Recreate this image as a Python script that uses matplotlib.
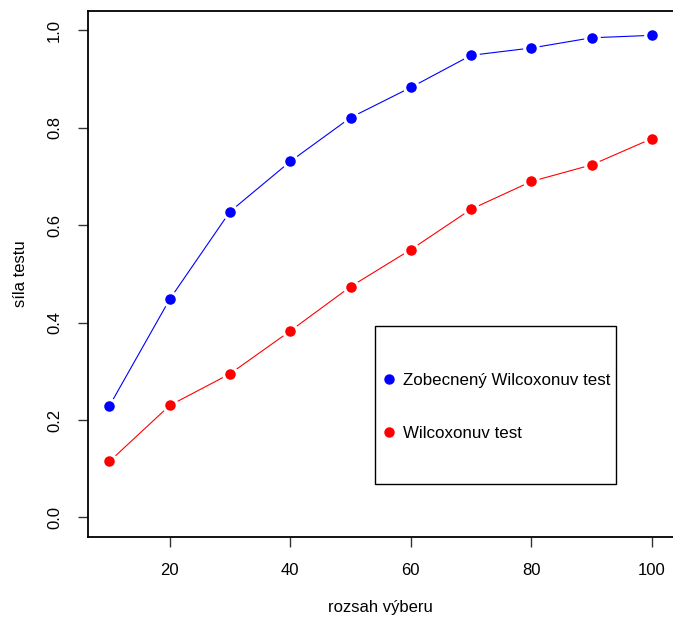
import matplotlib
matplotlib.use("Agg")
import matplotlib.pyplot as plt
from matplotlib.lines import Line2D
from matplotlib.patches import Rectangle

plt.rcParams['font.family'] = ['Liberation Sans', 'DejaVu Sans']

# rozsah vyberu
n = [10, 20, 30, 40, 50, 60, 70, 80, 90, 100]
# sila testu
zobecneny = [0.229, 0.448, 0.628, 0.731, 0.821, 0.883, 0.949, 0.964, 0.985, 0.990]
wilcoxon = [0.115, 0.230, 0.295, 0.383, 0.474, 0.550, 0.633, 0.690, 0.724, 0.778]
labels = ['Zobecnený Wilcoxonuv test', 'Wilcoxonuv test']
colors = ['#0000ff', '#ff0000']

fig = plt.figure(figsize=(6.73, 6.17), dpi=100)
ax = fig.add_axes([0.1303, 0.1297, 0.8707, 0.8525])

for ys, c in zip([zobecneny, wilcoxon], colors):
    ax.plot(n, ys, color=c, lw=0.8, marker='o', ms=9.8,
            mfc=c, mec='white', mew=2.2, zorder=3)

ax.set_xlim(6.4, 103.6)
ax.set_ylim(-0.04, 1.04)
ax.set_xticks([20, 40, 60, 80, 100])
ax.set_yticks([0.0, 0.2, 0.4, 0.6, 0.8, 1.0])
ax.set_yticklabels(['0.0', '0.2', '0.4', '0.6', '0.8', '1.0'], rotation=90, va='center')
ax.tick_params(axis='both', length=7.5, width=1.0, color='#333333', labelsize=12, pad=11)

for s in ax.spines.values():
    s.set_linewidth(1.3)
ax.spines['right'].set_visible(False)

ax.set_xlabel('rozsah výberu', fontsize=12, labelpad=16)
ax.set_ylabel('síla testu', fontsize=12, labelpad=14)

# legend frame as in R
ax.add_patch(Rectangle((0.490, 0.1008), 0.4115, 0.3002, transform=ax.transAxes,
                       fill=False, ec='black', lw=1.0, zorder=4))
handles = [Line2D([], [], ls='none', marker='o', ms=6.5, color=c) for c in colors]
leg = ax.legend(handles, labels, loc='center left', bbox_to_anchor=(0.499, 0.247),
                fontsize=12.2, frameon=False, borderpad=0, borderaxespad=0,
                labelspacing=2.25, handletextpad=0.34, handlelength=1.0)

fig.savefig('out.png', dpi=100)
